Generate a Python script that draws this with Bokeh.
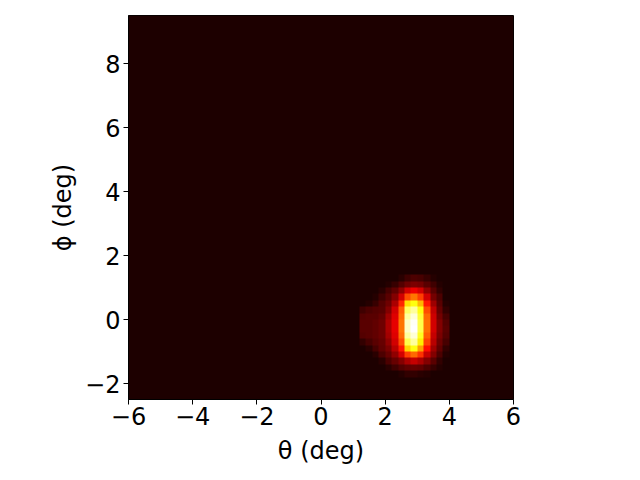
import numpy as np
from bokeh.plotting import figure
from bokeh.models import Range1d, FixedTicker, LinearColorMapper
from bokeh.embed import file_html
from bokeh.resources import INLINE

# ---- data ----
theta_range = [-6.0, 6.0]
phi_range = [-2.5, 9.5]
bin_size = 0.1
background_level = 3          # counts, relative to a peak of 100

# blob counts on a 0.2 deg grid, theta columns 1.2..4.0, phi rows from 1.4 (top) down to -1.8
blob_theta_start = 1.2
blob_phi_top = 1.4
blob_cell = 0.2
blob_values = [
    [3, 3, 3, 3, 3, 3, 5, 8, 10, 9, 7, 4, 3, 3],
    [3, 3, 3, 3, 4, 7, 11, 15, 17, 16, 12, 8, 4, 3],
    [3, 3, 3, 5, 9, 13, 20, 30, 34, 30, 20, 12, 6, 3],
    [3, 3, 4, 8, 12, 18, 30, 48, 54, 46, 30, 16, 10, 3],
    [3, 4, 7, 11, 15, 24, 42, 70, 76, 64, 40, 22, 12, 4],
    [8, 10, 11, 12, 18, 30, 50, 84, 90, 76, 48, 27, 14, 6],
    [11, 12, 12, 14, 22, 32, 52, 90, 96, 80, 52, 29, 16, 9],
    [12, 12, 13, 15, 24, 33, 54, 94, 99, 82, 53, 30, 18, 11],
    [12, 12, 13, 15, 24, 33, 54, 94, 100, 82, 53, 30, 18, 12],
    [11, 12, 13, 15, 23, 32, 52, 90, 96, 78, 50, 28, 17, 11],
    [6, 9, 12, 14, 20, 30, 48, 82, 90, 72, 46, 26, 15, 9],
    [3, 5, 9, 13, 17, 26, 40, 68, 76, 60, 38, 22, 13, 6],
    [3, 3, 5, 10, 14, 20, 30, 46, 52, 44, 28, 18, 10, 4],
    [3, 3, 3, 5, 10, 14, 18, 24, 28, 24, 18, 12, 6, 3],
    [3, 3, 3, 3, 5, 8, 11, 13, 14, 13, 10, 7, 4, 3],
    [3, 3, 3, 3, 3, 3, 4, 6, 6, 5, 4, 3, 3, 3],
]

x_ticks = [-6, -4, -2, 0, 2, 4, 6]
x_tick_labels = ["\u22126", "\u22124", "\u22122", "0", "2", "4", "6"]
y_ticks = [-2, 0, 2, 4, 6, 8]
y_tick_labels = ["\u22122", "0", "2", "4", "6", "8"]
x_label = "\u03b8 (deg)"
y_label = "\u03d5 (deg)"

# ---- build the histogram image ----
nx = int(round((theta_range[1] - theta_range[0]) / bin_size))
ny = int(round((phi_range[1] - phi_range[0]) / bin_size))
grid = np.full((ny, nx), float(background_level))
blob = np.array(blob_values, dtype=float)[::-1]
rep = int(round(blob_cell / bin_size))
fine = np.kron(blob, np.ones((rep, rep)))
i0 = int(round((blob_phi_top - len(blob_values) * blob_cell - phi_range[0]) / bin_size))
j0 = int(round((blob_theta_start - theta_range[0]) / bin_size))
grid[i0:i0 + fine.shape[0], j0:j0 + fine.shape[1]] = fine

# matplotlib "hot" colormap
def hot_palette(n=256):
    cols = []
    for k in range(n):
        t = k / (n - 1)
        r = min(1.0, 0.0416 + (1 - 0.0416) * t / 0.365079)
        g = min(1.0, max(0.0, (t - 0.365079) / (0.746032 - 0.365079)))
        b = min(1.0, max(0.0, (t - 0.746032) / (1 - 0.746032)))
        cols.append("#%02x%02x%02x" % (int(round(r * 255)), int(round(g * 255)), int(round(b * 255))))
    return cols

mapper = LinearColorMapper(palette=hot_palette(), low=0, high=float(grid.max()))

p = figure(width=632, height=472,
           x_range=Range1d(*theta_range), y_range=Range1d(*phi_range),
           output_backend="svg", toolbar_location=None,
           min_border_left=128, min_border_right=119,
           min_border_top=15, min_border_bottom=73)

p.image(image=[grid], x=theta_range[0], y=phi_range[0],
        dw=theta_range[1] - theta_range[0], dh=phi_range[1] - phi_range[0],
        color_mapper=mapper)

p.grid.visible = False
p.outline_line_color = "black"
p.outline_line_width = 1
p.background_fill_color = "white"
p.border_fill_color = "white"

font = "DejaVu Sans"
p.xaxis.ticker = FixedTicker(ticks=x_ticks)
p.yaxis.ticker = FixedTicker(ticks=y_ticks)
p.xaxis.major_label_overrides = {t: l for t, l in zip(x_ticks, x_tick_labels)}
p.yaxis.major_label_overrides = {t: l for t, l in zip(y_ticks, y_tick_labels)}
p.xaxis.axis_label = x_label
p.yaxis.axis_label = y_label

for ax in (p.xaxis, p.yaxis):
    ax.axis_line_color = "black"
    ax.major_tick_line_color = "black"
    ax.major_tick_out = 5
    ax.major_tick_in = 0
    ax.minor_tick_line_color = None
    ax.major_label_text_font = font
    ax.major_label_text_font_size = "24px"
    ax.major_label_text_color = "black"
    ax.axis_label_text_font = font
    ax.axis_label_text_font_size = "24px"
    ax.axis_label_text_font_style = "normal"
    ax.axis_label_text_color = "black"

p.xaxis.major_label_standoff = 2
p.yaxis.major_label_standoff = 3
p.xaxis.axis_label_standoff = 9
p.yaxis.axis_label_standoff = 5

open("out.html", "w").write(file_html(p, INLINE))
